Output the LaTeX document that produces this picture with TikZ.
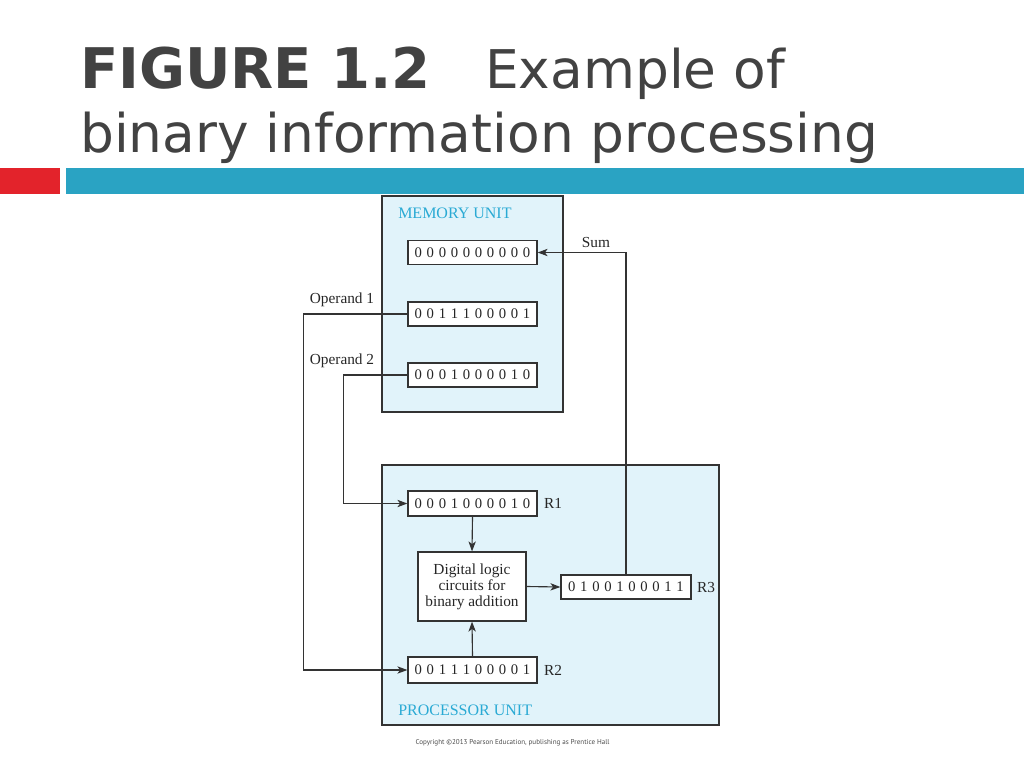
\documentclass[tikz,border=0pt]{standalone}
\usepackage{fontspec}
\setmainfont{Liberation Serif}
\newfontfamily\titlefont{DejaVu Sans}
\newfontfamily\copyfont{PT Sans}
\usetikzlibrary{arrows.meta}
\definecolor{titlegray}{HTML}{424242}
\definecolor{barred}{HTML}{E3232B}
\definecolor{barteal}{HTML}{2AA3C3}
\definecolor{unitfill}{HTML}{E1F3FA}
\definecolor{unitlabel}{HTML}{2AAAD4}
\definecolor{linecol}{HTML}{333333}
\tikzset{
  unitbox/.style={draw=linecol, line width=0.9pt, fill=unitfill, inner sep=0pt},
  regbox/.style={draw=linecol, line width=0.9pt, fill=white, inner sep=0pt,
    minimum width=96.75pt, minimum height=18pt,
    font={\fontsize{11}{13}\selectfont\spaceskip=0.32em\relax}, text=black!85},
  logicbox/.style={draw=linecol, line width=0.9pt, fill=white, inner sep=0pt,
    minimum width=81pt, minimum height=51.75pt, align=center,
    font={\fontsize{11.5}{12}\selectfont}, text=black!85},
  lbl/.style={inner sep=0pt, font={\fontsize{11.5}{13}\selectfont}, text=black!85},
  unitlbl/.style={inner sep=0pt, anchor=west, font={\fontsize{12}{14}\selectfont}, text=unitlabel},
  titletext/.style={anchor=base west, inner sep=0pt, text=titlegray},
  conn/.style={draw=linecol, line width=0.85pt},
  arr/.style={conn, -{Stealth[length=7.5pt,width=5.5pt,inset=2pt]}}
}
\begin{document}
\begin{tikzpicture}[x=0.75pt, y=-0.75pt]
\useasboundingbox (0,0) rectangle (1024,768);
% title
\node[titletext, font={\titlefont\bfseries\fontsize{42}{48}\selectfont}] (t1) at (80,88) {FIGURE 1.2};
\node[titletext, font={\titlefont\fontsize{40}{48}\selectfont}] (t1b) at (485,88) {Example of};
\node[titletext, font={\titlefont\fontsize{40}{48}\selectfont}] (t2) at (80,152) {binary information processing};
% bars
\fill[barred] (0,168) rectangle (60,194);
\fill[barteal] (66,168) rectangle (1024,194);
% units
\node[unitbox, minimum width=135.75pt, minimum height=162pt] (mem) at (472.5,304) {};
\node[unitbox, minimum width=252.75pt, minimum height=195pt] (proc) at (550.5,595) {};
\node[unitlbl] (memlbl) at (398,213) {MEMORY UNIT};
\node[unitlbl] (proclbl) at (398,710) {PROCESSOR UNIT};
% memory registers
\node[regbox] (m0) at (472.5,252.5) {0 0 0 0 0 0 0 0 0 0};
\node[regbox] (m1) at (472.5,314) {0 0 1 1 1 0 0 0 0 1};
\node[regbox] (m2) at (472.5,375) {0 0 0 1 0 0 0 0 1 0};
% processor registers
\node[regbox, minimum height=18.75pt] (r1) at (472.5,503.5) {0 0 0 1 0 0 0 0 1 0};
\node[regbox, minimum height=19.5pt] (r2) at (472.5,670) {0 0 1 1 1 0 0 0 0 1};
\node[regbox, minimum width=97.5pt] (r3) at (626,587) {0 1 0 0 1 0 0 0 1 1};
\node[logicbox] (logic) at (472,586.5) {\raisebox{-1.5pt}{\parbox{78pt}{\centering Digital logic\\circuits for\\binary addition}}};
% labels
\node[lbl] (r1l) at (553,503) {R1};
\node[lbl] (r2l) at (553,670) {R2};
\node[lbl] (r3l) at (706,587) {R3};
\node[lbl] (suml) at (596,242) {Sum};
\node[lbl] (op1l) at (342,300) {Operand 1};
\node[lbl] (op2l) at (342,361) {Operand 2};
% connectors
\draw[arr] (r3.north) |- (m0.east);
\draw[arr] (m1.west) -- ++(-104,0) |- (r2.west);
\draw[arr] (m2.west) -- ++(-64,0) |- (r1.west);
\draw[arr] (r1.south) -- (logic.north);
\draw[arr] (r2.north) -- (logic.south);
\draw[arr] (logic.east) -- (r3.west);
% copyright
\node[inner sep=0pt, text=black!70, font={\copyfont\fontsize{5.3}{6}\selectfont}] (copy) at (512.5,743) {Copyright \textcopyright2013 Pearson Education, publishing as Prentice Hall};
\end{tikzpicture}
\end{document}
